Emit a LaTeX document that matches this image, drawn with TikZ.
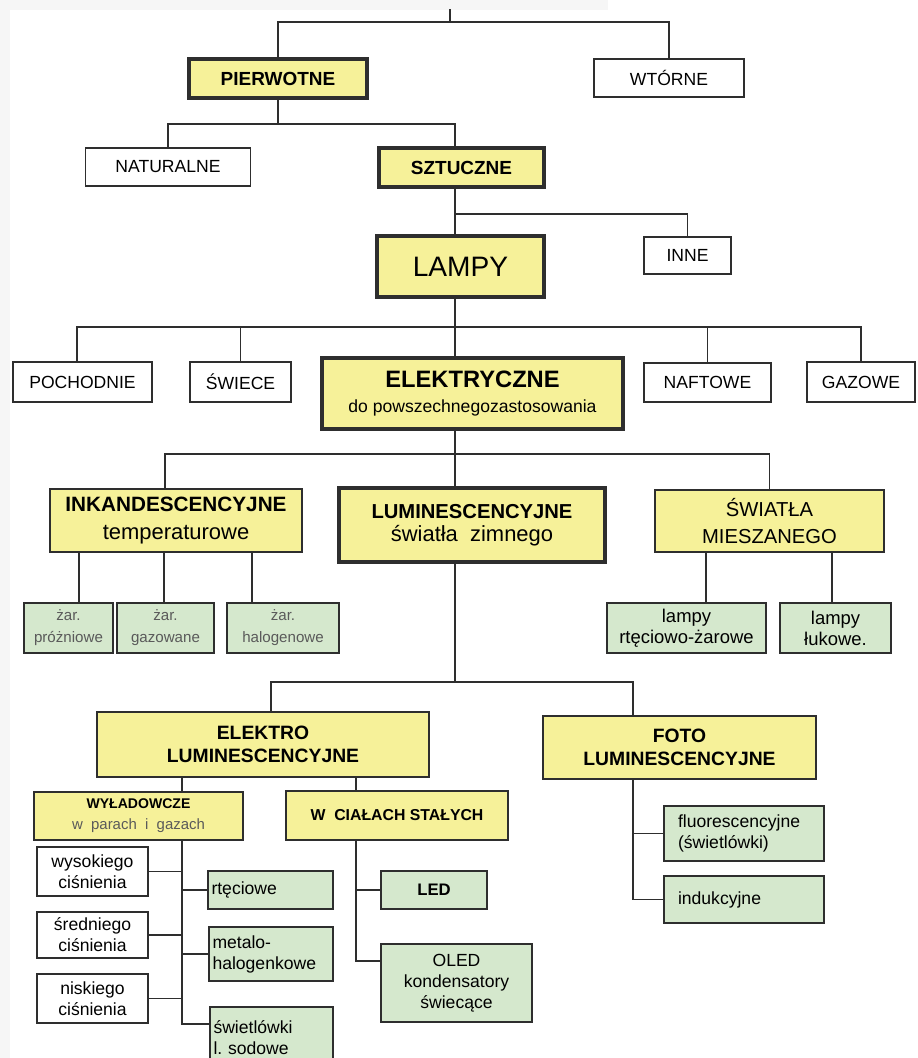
\documentclass[tikz,border=0pt]{standalone}
\usepackage{fontspec}
\setmainfont{Liberation Sans}
\usepackage{tikz}
\usetikzlibrary{positioning}
\definecolor{zolty}{HTML}{F6F199}
\definecolor{zielony}{HTML}{D5E8CD}
\definecolor{linia}{HTML}{2E2E2E}
\definecolor{szary}{HTML}{5A5A5A}
\newcommand{\fsz}[2]{\fontsize{#1}{#2}\selectfont}

\begin{document}
\begin{tikzpicture}
    [x=0.02cm, y=-0.02cm,
     sz/.style 2 args={minimum width=#1*0.02cm, minimum height=#2*0.02cm},
     box/.style={draw=linia, line width=1.1pt, inner sep=1pt, align=center, text=black},
     wbox/.style={box, fill=white, font=\fsz{10pt}{12pt}},
     ybox/.style={box, fill=zolty},
     ybold/.style={ybox, line width=1.8pt},
     ythick/.style={ybox, line width=2.5pt},
     gbox/.style={box, fill=zielony, font=\fsz{10pt}{12pt}},
     gleft/.style={gbox, align=left, inner xsep=2pt},
     conn/.style={draw=linia, line width=1.1pt}]
    % page and scan edges
    \useasboundingbox (0,0) rectangle (917,1058);
    \fill[gray!7] (0,0) rectangle (10,1058);
    \fill[gray!7] (0,0) rectangle (608,10);
    % x of the stems
    \coordinate (root) at (450,9);
    \coordinate (spine) at (455,0);
    \coordinate (p1) at (77,0);
    \coordinate (ki) at (165,0);
    \coordinate (z1) at (79,0);
    \coordinate (z2) at (164,0);
    \coordinate (z3) at (252,0);
    \coordinate (m1) at (706,0);
    \coordinate (m2) at (832,0);
    \coordinate (e1) at (271,0);
    \coordinate (f1) at (633,0);
    \coordinate (sw) at (182,0);
    \coordinate (sc) at (356,0);
    % pierwotne / wtorne
    \node[ybold, sz={178}{39}, font=\bfseries\fsz{10.8pt}{13pt}] (pierw) at (278,78.5) {PIERWOTNE};
    \node[wbox, sz={150}{38}] (wtor) at (669,78) {WTÓRNE};
    \node[wbox, sz={165}{38}] (natur) at (168,167) {NATURALNE};
    \node[ybold, sz={165}{39}, font=\bfseries\fsz{10.8pt}{13pt}] (sztu) at (461.5,167.5) {SZTUCZNE};
    % lampy
    \node[ythick, sz={167}{61}, font=\fsz{16pt}{19pt}] (lampy) at (460.5,266.5) {LAMPY};
    \node[wbox, sz={87}{37}] (inne) at (687.5,255.5) {INNE};
    % kinds of lamps
    \node[wbox, sz={139}{40}] (poch) at (82.5,382) {POCHODNIE};
    \node[wbox, sz={101}{40}] (swie) at (240.5,382) {ŚWIECE};
    \node[ythick, sz={301}{71}] (elek) at (472.5,393.5)
        {\fsz{13.5pt}{16pt}\bfseries ELEKTRYCZNE\\[2pt]\fsz{10pt}{12pt}\mdseries do powszechnegozastosowania};
    \node[wbox, sz={127}{39}] (naft) at (707.5,382.5) {NAFTOWE};
    \node[wbox, sz={108}{40}] (gaz) at (861,382) {GAZOWE};
    % electric lamps
    \node[ybox, sz={252}{63}] (inkan) at (176,520.5)
        {\fsz{11.8pt}{14pt}\bfseries INKANDESCENCYJNE\\[4pt]\fsz{12.5pt}{14pt}\mdseries temperaturowe};
    \node[ythick, sz={266}{74}] (lumi) at (472,525)
        {\fsz{11.5pt}{14pt}\bfseries LUMINESCENCYJNE\\[1pt]\fsz{12.5pt}{14pt}\mdseries światła\ \ zimnego};
    \node[ybox, sz={229}{62}, font=\fsz{11.5pt}{15pt}] (swia) at (769.5,521) {ŚWIATŁA\\MIESZANEGO};
    % incandescent and mixed
    \node[gbox, sz={89}{50}, font=\fsz{8.6pt}{12.5pt}, text=szary] (zpro) at (68.5,628) {żar.\\próżniowe};
    \node[gbox, sz={97}{50}, font=\fsz{8.6pt}{12.5pt}, text=szary] (zgaz) at (165.5,628) {żar.\\gazowane};
    \node[gbox, sz={112}{50}, font=\fsz{8.6pt}{12.5pt}, text=szary] (zhal) at (283,628) {żar.\\halogenowe};
    \node[gbox, sz={159}{50}, font=\fsz{10.5pt}{12pt}] (lrt) at (686.5,628) {lampy\\rtęciowo-żarowe};
    \node[gbox, sz={111}{50}, font=\fsz{10.5pt}{12pt}] (luk) at (835.5,628) {lampy\\łukowe.};
    % luminescent
    \node[ybox, sz={332}{65}, font=\bfseries\fsz{11pt}{13pt}] (elro) at (263,744.5) {ELEKTRO\\LUMINESCENCYJNE};
    \node[ybox, sz={273}{63}, font=\bfseries\fsz{11pt}{13pt}] (foto) at (679.5,747.5) {FOTO\\LUMINESCENCYJNE};
    \node[ybox, sz={209}{48}] (wyl) at (138.5,816)
        {\fsz{8pt}{10pt}\bfseries WYŁADOWCZE\\\fsz{8.5pt}{10pt}\mdseries\color{szary}w\ \ parach\ \ i\ \ gazach};
    \node[ybox, sz={222}{49}, font=\bfseries\fsz{9pt}{11pt}] (wcia) at (397,815.5) {W\ \ CIAŁACH STAŁYCH};
    % discharge lamps
    \node[wbox, sz={111}{49}] (wys) at (92.5,871.5) {wysokiego\\ciśnienia};
    \node[wbox, sz={111}{46}] (sred) at (92.5,935) {średniego\\ciśnienia};
    \node[wbox, sz={111}{49}] (nisk) at (92.5,998.5) {niskiego\\ciśnienia};
    \node[gleft, sz={125}{38}, text width=2.36cm] (rtec) at (270.5,890) {rtęciowe};
    \node[gleft, sz={124}{54}, text width=2.34cm] (meta) at (271,954) {metalo-\\halogenkowe};
    \node[gleft, sz={123}{61}, text width=2.32cm] (swiet) at (271.5,1037.5) {świetlówki\\l.\ sodowe};
    % solid state and photo
    \node[gbox, sz={106}{38}, font=\bfseries\fsz{9.5pt}{11pt}] (led) at (434,890) {LED};
    \node[gbox, sz={151}{78}] (oled) at (456.5,983) {OLED\\kondensatory\\świecące};
    \node[gleft, sz={160}{55}, inner xsep=8pt, text width=2.64cm] (fluo) at (744,833.5) {fluorescencyjne\\(świetlówki)};
    \node[gleft, sz={160}{47}, inner xsep=8pt, text width=2.64cm] (indu) at (744,899.5) {indukcyjne};
    % Lines
    \draw[conn] (root) -- ++(0,13) coordinate (r1);
    \draw[conn] (pierw.north) |- (r1) -| (wtor.north);
    \draw[conn] (pierw.south) -- ++(0,24) coordinate (r2);
    \draw[conn] (natur.north) |- (r2) -| (sztu.north -| spine);
    \draw[conn] (sztu.south -| spine) -- (lampy.north -| spine);
    \path (sztu.south -| spine) ++(0,25) coordinate (r3);
    \draw[conn] (r3) -| (inne.north);
    \draw[conn] (lampy.south -| spine) -- ++(0,28) coordinate (r4);
    \draw[conn] (poch.north -| p1) |- (r4) -| (gaz.north);
    \path[conn] (swie.north) edge (swie.north |- r4);
    \path[conn] (naft.north) edge (naft.north |- r4);
    \path[conn] (r4) edge (elek.north -| spine);
    \draw[conn] (elek.south -| spine) -- ++(0,23) coordinate (r5);
    \draw[conn] (inkan.north -| ki) |- (r5) -| (swia.north);
    \path[conn] (r5) edge (lumi.north -| spine);
    \path[conn] (inkan.south -| z1) edge (zpro.north -| z1);
    \path[conn] (inkan.south -| z2) edge (zgaz.north -| z2);
    \path[conn] (inkan.south -| z3) edge (zhal.north -| z3);
    \path[conn] (swia.south -| m1) edge (lrt.north -| m1);
    \path[conn] (swia.south -| m2) edge (luk.north -| m2);
    \draw[conn] (lumi.south -| spine) -- ++(0,118) coordinate (r6);
    \draw[conn] (elro.north -| e1) |- (r6) -| (foto.north -| f1);
    \path[conn] (elro.south -| sw) edge (wyl.north -| sw);
    \path[conn] (elro.south -| sc) edge (wcia.north -| sc);
    \draw[conn] (wyl.south -| sw) |- ([yshift=0.27cm]swiet.west);
    \path[conn] (wys.east) edge (wys.east -| sw);
    \path[conn] (sred.east) edge (sred.east -| sw);
    \path[conn] (nisk.east) edge (nisk.east -| sw);
    \path[conn] (rtec.west) edge (rtec.west -| sw);
    \path[conn] (meta.west) edge (meta.west -| sw);
    \draw[conn] (wcia.south -| sc) |- ([yshift=0.44cm]oled.west);
    \path[conn] (led.west) edge (led.west -| sc);
    \draw[conn] (foto.south -| f1) |- (indu.west);
    \path[conn] (fluo.west) edge (fluo.west -| f1);
\end{tikzpicture}
\end{document}
